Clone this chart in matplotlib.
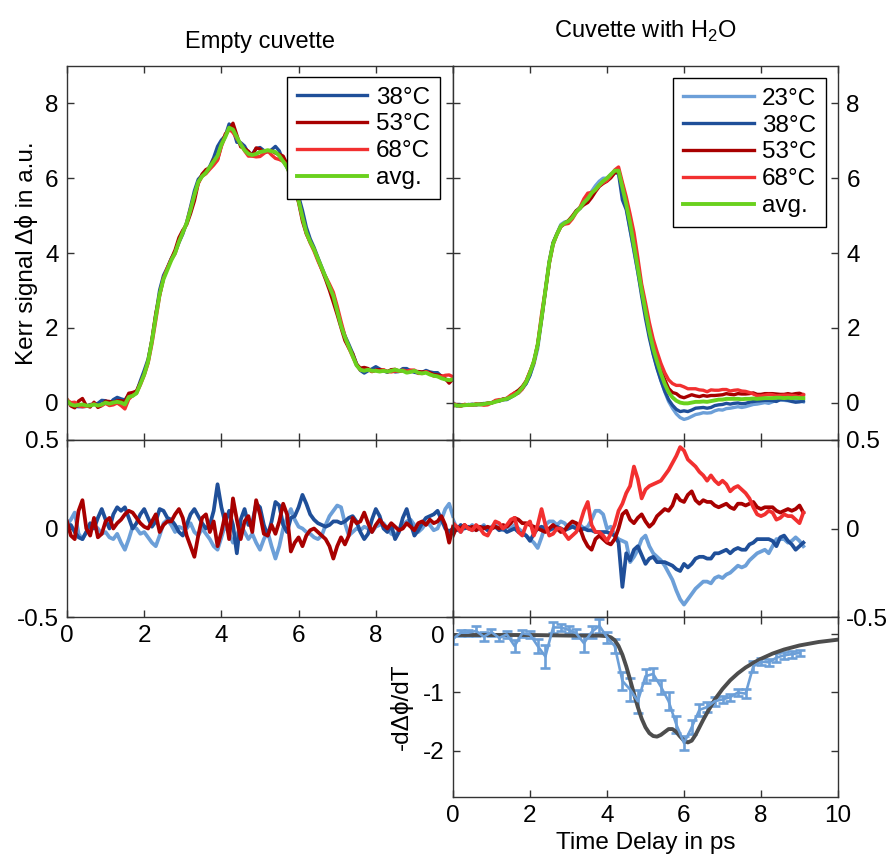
import numpy as np
import matplotlib
matplotlib.use("Agg")
from matplotlib import pyplot as plt

plt.rcParams["font.family"] = ["Liberation Sans", "DejaVu Sans"]
plt.rcParams["font.size"] = 17.5
plt.rcParams["axes.unicode_minus"] = False
plt.rcParams["mathtext.fontset"] = "custom"
plt.rcParams["mathtext.rm"] = "Liberation Sans"

# colours per temperature
c23 = "#6c9fd8"
c38 = "#1f4f99"
c53 = "#a80000"
c68 = "#f23030"
cavg = "#6ad11e"
cfit = "#4d4d4d"

# time grids (ps)
t_empty = np.round(np.arange(0, 10.01, 0.1), 1)
t_water = np.round(np.arange(0, 9.11, 0.1), 1)
t_deriv = np.round(np.arange(0, 9.01, 0.2), 1)

# empty cuvette: average Kerr signal
avg_empty = [
    0.05, -0.05, -0.08, -0.06, -0.05, -0.08, -0.08, -0.05, -0.08, -0.05,
    0.0, -0.03, 0.0, 0.02, 0.0, -0.05, 0.15, 0.18, 0.25, 0.5,
    0.75, 1.1, 1.65, 2.3, 2.9, 3.3, 3.55, 3.8, 4.0, 4.3,
    4.55, 4.8, 5.15, 5.55, 5.9, 6.05, 6.15, 6.3, 6.45, 6.6,
    6.9, 7.1, 7.35, 7.3, 7.1, 6.9, 6.75, 6.65, 6.62, 6.65,
    6.7, 6.72, 6.75, 6.72, 6.7, 6.6, 6.45, 6.3, 6.05, 5.75,
    5.4, 4.95, 4.55, 4.3, 4.1, 3.85, 3.6, 3.35, 3.1, 2.85,
    2.45, 2.05, 1.75, 1.5, 1.25, 1.0, 0.88, 0.85, 0.88, 0.85,
    0.85, 0.83, 0.85, 0.83, 0.85, 0.88, 0.85, 0.85, 0.8, 0.82,
    0.85, 0.8, 0.78, 0.8, 0.75, 0.72, 0.7, 0.65, 0.62, 0.6,
    0.62]

# empty cuvette: deviation from average
dev_empty_lb = [
    0.02, 0.05, 0.09, -0.03, -0.06, -0.02, 0.01, 0.02, 0.0, -0.03,
    -0.02, -0.05, -0.06, -0.03, -0.08, -0.12, -0.06, 0.01, 0.0, -0.03,
    -0.02, -0.05, -0.08, -0.1, -0.04, 0.03, 0.05, 0.02, -0.02, 0.01,
    0.0, 0.0, 0.03, -0.02, -0.04, 0.0, -0.03, -0.06, -0.1, -0.12,
    -0.05, 0.02, -0.03, -0.08, -0.04, 0.02, -0.02, -0.06, -0.03, -0.08,
    -0.12, -0.06, -0.02, -0.1, -0.17, -0.1, 0.0, 0.06, 0.11, 0.05,
    0.01, 0.0, -0.02, -0.03, -0.05, -0.06, -0.04, 0.02, 0.07, 0.1,
    0.13, 0.12, 0.03, -0.04, -0.02, 0.0, -0.01, 0.01, 0.0, -0.02,
    0.01, 0.02, 0.03, 0.0, -0.03, -0.04, -0.01, 0.02, 0.04, 0.05,
    0.02, -0.02, 0.0, 0.03, 0.02, -0.01, 0.0, 0.05, 0.11, 0.14,
    0.07]
dev_empty_db = [
    0.0, 0.02, -0.02, -0.05, -0.06, -0.02, 0.03, 0.0, 0.06, 0.11,
    0.05, 0.0, 0.08, 0.12, 0.1, 0.12, 0.06, 0.0, 0.03, 0.08,
    0.11, 0.06, 0.01, 0.04, 0.11, 0.1, 0.06, 0.05, 0.02, -0.02,
    -0.04, 0.02, 0.08, 0.11, 0.07, 0.03, 0.0, 0.02, 0.1, 0.25,
    0.12, 0.03, 0.1, 0.02, -0.14, 0.05, 0.11, 0.02, 0.03, 0.14,
    0.12, 0.02, -0.04, 0.04, 0.15, 0.13, 0.02, -0.02, 0.06, 0.07,
    0.12, 0.19, 0.14, 0.08, 0.05, 0.03, 0.02, 0.01, 0.02, 0.04,
    0.04, 0.03, 0.04, 0.06, 0.07, 0.04, -0.02, -0.06, -0.03, 0.05,
    0.11, 0.07, 0.0, -0.02, 0.02, -0.06, -0.02, 0.06, 0.11, 0.03,
    -0.04, -0.01, 0.03, 0.06, 0.07, 0.08, 0.1, 0.05, 0.0, -0.02,
    0.0]
dev_empty_dr = [
    0.04, -0.04, -0.06, 0.1, 0.16, 0.0, -0.04, 0.06, -0.05, -0.03,
    0.04, 0.06, 0.0, 0.03, 0.05, 0.08, 0.1, 0.09, 0.06, 0.03,
    0.01, 0.0, 0.04, 0.08, -0.02, 0.02, 0.04, 0.04, 0.08, 0.11,
    0.06, -0.04, -0.1, -0.16, -0.04, 0.06, 0.08, -0.02, 0.04, -0.1,
    -0.02, 0.08, -0.06, 0.17, 0.05, -0.06, 0.04, 0.07, -0.02, 0.16,
    0.08, -0.03, -0.04, 0.02, -0.03, 0.04, 0.14, 0.08, -0.13, -0.08,
    -0.05, -0.1, -0.04, -0.01, 0.0, -0.02, -0.04, -0.06, -0.1, -0.17,
    -0.1, -0.05, -0.09, -0.04, 0.06, 0.03, 0.04, 0.09, 0.03, -0.02,
    0.02, 0.05, 0.02, 0.0, 0.03, 0.01, -0.01, 0.0, 0.03, 0.01,
    -0.01, 0.03, 0.04, 0.02, 0.05, 0.03, 0.04, 0.07, 0.02, -0.08,
    0.01]

# cuvette with water: average Kerr signal
avg_water = [
    -0.05, -0.08, -0.08, -0.07, -0.06, -0.06, -0.05, -0.05, -0.04, -0.02,
    -0.01, 0.02, 0.05, 0.08, 0.1, 0.15, 0.2, 0.28, 0.4, 0.55,
    0.8, 1.1, 1.55, 2.25, 3.0, 3.75, 4.25, 4.5, 4.72, 4.8,
    4.85, 4.95, 5.1, 5.2, 5.35, 5.45, 5.6, 5.7, 5.82, 5.92,
    6.0, 6.1, 6.2, 6.2, 5.75, 5.3, 4.8, 4.2, 3.6, 3.0,
    2.45, 1.9, 1.45, 1.1, 0.78, 0.5, 0.28, 0.14, 0.05, 0.0,
    -0.02, -0.02, 0.0, 0.02, 0.02, 0.03, 0.02, 0.04, 0.06, 0.08,
    0.08, 0.1, 0.1, 0.1, 0.1, 0.09, 0.1, 0.1, 0.11, 0.1,
    0.11, 0.12, 0.12, 0.12, 0.13, 0.13, 0.12, 0.13, 0.12, 0.13,
    0.12, 0.12]

# cuvette with water: deviation from average
dev_water_23 = [
    0.05, 0.0, -0.02, 0.01, 0.0, 0.02, -0.01, 0.0, 0.02, -0.01,
    0.01, 0.02, 0.0, -0.01, 0.01, 0.0, 0.02, 0.0, -0.02, -0.04,
    -0.06, -0.08, -0.11, -0.05, 0.02, 0.04, 0.04, 0.02, 0.04, 0.03,
    0.0, 0.01, 0.03, 0.02, 0.0, 0.01, 0.05, 0.1, 0.1, 0.08,
    0.0, 0.01, -0.04, -0.06, -0.07, -0.08, -0.19, -0.16, -0.12, -0.06,
    -0.04, -0.1, -0.14, -0.16, -0.18, -0.21, -0.25, -0.29, -0.35, -0.4,
    -0.43, -0.4, -0.37, -0.34, -0.32, -0.3, -0.3, -0.31, -0.28, -0.27,
    -0.28, -0.26, -0.25, -0.23, -0.21, -0.22, -0.21, -0.18, -0.16, -0.14,
    -0.13, -0.12, -0.14, -0.1, -0.06, -0.06, -0.06, -0.08, -0.07, -0.05,
    -0.07, -0.1]
dev_water_38 = [
    0.02, -0.01, 0.02, 0.0, 0.01, -0.01, 0.01, 0.0, 0.01, -0.01,
    0.0, 0.01, -0.01, 0.0, -0.02, -0.01, 0.0, -0.02, -0.03, -0.04,
    -0.07, -0.03, 0.0, 0.01, 0.0, -0.01, 0.0, 0.01, 0.0, -0.01,
    0.0, 0.01, 0.0, -0.01, 0.0, -0.01, -0.01, -0.02, -0.02, -0.02,
    -0.02, -0.03, -0.04, -0.08, -0.33, -0.14, -0.18, -0.12, -0.1, -0.15,
    -0.2, -0.17, -0.16, -0.19, -0.19, -0.19, -0.2, -0.21, -0.23, -0.24,
    -0.2, -0.22, -0.2, -0.17, -0.16, -0.16, -0.17, -0.17, -0.14, -0.14,
    -0.13, -0.12, -0.14, -0.12, -0.11, -0.12, -0.12, -0.09, -0.08, -0.06,
    -0.06, -0.06, -0.06, -0.07, -0.1, -0.05, -0.04, -0.07, -0.09, -0.12,
    -0.1, -0.08]
dev_water_53 = [
    -0.04, 0.01, 0.0, 0.02, 0.0, 0.01, -0.01, 0.01, 0.0, 0.01,
    0.0, 0.01, 0.0, 0.02, 0.01, 0.03, 0.06, 0.05, 0.03, 0.03,
    0.02, 0.01, 0.0, -0.01, -0.02, 0.0, 0.02, 0.0, -0.02, -0.01,
    0.02, 0.04, 0.03, 0.0, -0.06, -0.1, -0.12, -0.06, -0.04, -0.06,
    -0.08, -0.09, -0.06, 0.0, 0.08, 0.1, 0.05, 0.03, 0.06, 0.08,
    0.04, 0.01, 0.03, 0.07, 0.09, 0.11, 0.1, 0.13, 0.19, 0.16,
    0.15, 0.19, 0.21, 0.16, 0.14, 0.16, 0.15, 0.15, 0.13, 0.12,
    0.13, 0.14, 0.12, 0.11, 0.14, 0.14, 0.13, 0.14, 0.15, 0.12,
    0.11, 0.12, 0.12, 0.12, 0.1, 0.09, 0.1, 0.11, 0.1, 0.11,
    0.13, 0.09]
dev_water_68 = [
    0.03, 0.01, -0.02, 0.02, 0.0, -0.01, 0.02, 0.0, -0.03, -0.04,
    0.0, 0.04, 0.03, 0.0, 0.02, 0.05, 0.06, -0.02, -0.04, 0.02,
    0.04, -0.04, 0.02, 0.11, 0.02, -0.04, -0.03, 0.0, 0.0, -0.03,
    -0.06, -0.04, -0.02, 0.03, 0.1, 0.15, 0.02, -0.02, -0.02, -0.04,
    -0.07, -0.03, 0.02, 0.1, 0.14, 0.2, 0.24, 0.35, 0.28, 0.17,
    0.22, 0.24, 0.25, 0.26, 0.27, 0.3, 0.33, 0.37, 0.41, 0.46,
    0.44, 0.39, 0.37, 0.35, 0.32, 0.3, 0.27, 0.3, 0.27, 0.25,
    0.27, 0.25, 0.21, 0.23, 0.24, 0.22, 0.2, 0.17, 0.12, 0.08,
    0.07, 0.08, 0.1, 0.09, 0.05, 0.06, 0.08, 0.07, 0.07, 0.05,
    0.03, 0.09]

# derivative -dDphi/dT with error bars, and model fit
deriv = [
    -0.08, 0.03, 0.03, 0.06, -0.04, 0.04, -0.06, 0.0, -0.2, 0.02,
    0.0, -0.2, -0.38, 0.12, 0.12, 0.08, 0.02, -0.15, 0.04, 0.15,
    -0.05, -0.2, -0.8, -0.95, -1.15, -0.72, -0.68, -0.9, -1.15, -1.55,
    -1.87, -1.6, -1.3, -1.25, -1.15, -1.12, -1.08, -1.0, -1.02, -0.55,
    -0.47, -0.48, -0.4, -0.36, -0.34, -0.32]
deriv_err = [
    0.08, 0.05, 0.05, 0.08, 0.08, 0.06, 0.06, 0.06, 0.1, 0.06,
    0.06, 0.12, 0.2, 0.1, 0.06, 0.06, 0.08, 0.15, 0.1, 0.12,
    0.1, 0.12, 0.15, 0.2, 0.2, 0.12, 0.1, 0.12, 0.15, 0.15,
    0.12, 0.12, 0.1, 0.08, 0.08, 0.06, 0.06, 0.06, 0.08, 0.1,
    0.06, 0.06, 0.08, 0.06, 0.06, 0.06]
fit_t = [0, 1, 2, 3, 3.8, 4.0, 4.1, 4.2, 4.3, 4.4, 4.5, 4.6, 4.7, 4.8, 4.9,
         5.0, 5.1, 5.2, 5.3, 5.4, 5.5, 5.6, 5.7, 5.8, 5.9, 6.0, 6.1, 6.2,
         6.3, 6.4, 6.5, 6.6, 6.8, 7.0, 7.2, 7.4, 7.6, 7.8, 8.0, 8.3, 8.6,
         9.0, 9.5, 10.0]
fit_y = [-0.01, -0.01, -0.01, -0.02, -0.02, -0.03, -0.05, -0.1, -0.2, -0.35,
         -0.55, -0.78, -1.02, -1.25, -1.45, -1.6, -1.7, -1.75, -1.76, -1.73,
         -1.68, -1.63, -1.63, -1.68, -1.76, -1.83, -1.86, -1.83, -1.73, -1.6,
         -1.47, -1.35, -1.12, -0.94, -0.79, -0.67, -0.57, -0.49, -0.42, -0.33,
         -0.26, -0.19, -0.13, -0.09]

W, H = 887, 859
fig = plt.figure(figsize=(W / 100, H / 100), dpi=100)


def box(px):
    x0, y0, x1, y1 = px
    return [x0 / W, 1 - y1 / H, (x1 - x0) / W, (y1 - y0) / H]


ax_tl = fig.add_axes(box((67, 66, 453, 440)))
ax_tr = fig.add_axes(box((453, 66, 838, 440)))
ax_ml = fig.add_axes(box((67, 440, 453, 617)))
ax_mr = fig.add_axes(box((453, 440, 838, 617)))
ax_b = fig.add_axes(box((453, 617, 838, 797)))

for ax in (ax_tl, ax_tr, ax_ml, ax_mr, ax_b):
    ax.set_xlim(0, 10)
    ax.set_xticks([0, 2, 4, 6, 8, 10])
    ax.tick_params(direction="in", top=True, right=True, left=True,
                   length=5, width=1, color="#333333", pad=6)
    for s in ax.spines.values():
        s.set_color("#333333")
        s.set_linewidth(1.0)

lw_top = 2.4
lw_avg = 2.8
lw_mid = 2.7

# top left
ax_tl.plot(t_empty, np.add(avg_empty, dev_empty_db), color=c38, lw=lw_top, label="38°C")
ax_tl.plot(t_empty, np.add(avg_empty, dev_empty_dr), color=c53, lw=lw_top, label="53°C")
ax_tl.plot(t_empty, np.add(avg_empty, dev_empty_lb), color=c68, lw=lw_top, label="68°C")
ax_tl.plot(t_empty, avg_empty, color=cavg, lw=lw_avg, label="avg.")
ax_tl.set_ylim(-1, 9)
ax_tl.set_yticks([0, 2, 4, 6, 8])
ax_tl.tick_params(labelbottom=False)
ax_tl.set_ylabel("Kerr signal Δϕ in a.u.")
ax_tl.yaxis.set_label_coords(-0.075, 0.5)
ax_tl.set_title("Empty cuvette", fontsize=17, pad=13)

# top right
ax_tr.plot(t_water, np.add(avg_water, dev_water_23), color=c23, lw=lw_top, label="23°C")
ax_tr.plot(t_water, np.add(avg_water, dev_water_38), color=c38, lw=lw_top, label="38°C")
ax_tr.plot(t_water, np.add(avg_water, dev_water_53), color=c53, lw=lw_top, label="53°C")
ax_tr.plot(t_water, np.add(avg_water, dev_water_68), color=c68, lw=lw_top, label="68°C")
ax_tr.plot(t_water, avg_water, color=cavg, lw=lw_avg, label="avg.")
ax_tr.set_ylim(-1, 9)
ax_tr.set_yticks([0, 2, 4, 6, 8])
ax_tr.tick_params(labelbottom=False, labelleft=False, labelright=True)
ax_tr.set_title("Cuvette with H$_2$O", fontsize=17, pad=20)

for ax, anchor in ((ax_tl, (0.966, 0.971)), (ax_tr, (0.969, 0.968))):
    leg = ax.legend(loc="upper right", bbox_to_anchor=anchor, borderaxespad=0,
                    fancybox=False, framealpha=1, edgecolor="black",
                    handlelength=2.9, handletextpad=0.35, labelspacing=0.2,
                    borderpad=0.4, fontsize=17.5)
    leg.get_frame().set_linewidth(1.0)

# middle left
ax_ml.plot(t_empty, dev_empty_lb, color=c23, lw=lw_mid)
ax_ml.plot(t_empty, dev_empty_db, color=c38, lw=lw_mid)
ax_ml.plot(t_empty, dev_empty_dr, color=c53, lw=lw_mid)
ax_ml.set_ylim(-0.5, 0.5)
ax_ml.set_yticks([-0.5, 0, 0.5])
ax_ml.set_yticklabels(["-0.5", "0", "0.5"])
ax_ml.set_xticklabels(["0", "2", "4", "6", "8", ""])

# middle right
ax_mr.plot(t_water, dev_water_23, color=c23, lw=lw_mid)
ax_mr.plot(t_water, dev_water_38, color=c38, lw=lw_mid)
ax_mr.plot(t_water, dev_water_53, color=c53, lw=lw_mid)
ax_mr.plot(t_water, dev_water_68, color=c68, lw=lw_mid)
ax_mr.set_ylim(-0.5, 0.5)
ax_mr.set_yticks([-0.5, 0, 0.5])
ax_mr.set_yticklabels(["-0.5", "0", "0.5"])
ax_mr.tick_params(labelbottom=False, labelleft=False, labelright=True)

# bottom: derivative with fit
ax_b.errorbar(t_deriv, deriv, yerr=deriv_err, color=c23, lw=1.9,
              elinewidth=1.9, capsize=3.5, capthick=1.9)
ax_b.plot(fit_t, fit_y, color=cfit, lw=2.8)
ax_b.set_ylim(-2.8, 0.3)
ax_b.set_yticks([-2, -1, 0])
ax_b.set_yticklabels(["-2", "-1", "0"])
ax_b.set_xticklabels(["0", "2", "4", "6", "8", "10"])
ax_b.set_ylabel("-dΔϕ/dT")
ax_b.yaxis.set_label_coords(-0.105, 0.5)
ax_b.set_xlabel("Time Delay in ps", labelpad=3)

fig.savefig("out.png", dpi=100)
